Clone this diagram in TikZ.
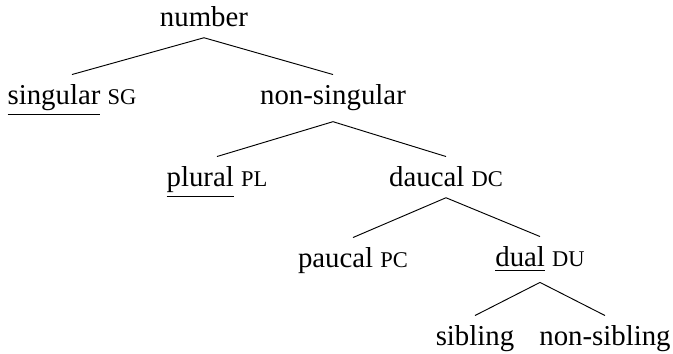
\documentclass[tikz,border=0pt]{standalone}
\usepackage{fontspec}
\setmainfont{Liberation Serif}

% glos kapital kecil
\newcommand{\gl}[1]{{\fontsize{9.6}{11}\selectfont #1}}

\begin{document}
\begin{tikzpicture}[x=0.015cm, y=-0.015cm, font=\fontsize{12.3}{14}\selectfont,
  every node/.style={anchor=base, inner xsep=0pt, inner ysep=0.15cm}]
\useasboundingbox (0,0) rectangle (673,354);

% akar
\node (num) at (204,27) {number};

% tingkat 1
\node (sg) at (72,105) {\underline{singular} \gl{SG}};
\node (nsg) at (333,105) {non-singular};

% tingkat 2
\node (pl) at (217,187) {\underline{plural} \gl{PL}};
\node (dc) at (446,187) {daucal \gl{DC}};

% tingkat 3
\node (pc) at (353,268) {paucal \gl{PC}};
\node (du) at (540,267) {\underline{dual} \gl{DU}};

% tingkat 4
\node (sib) at (475,346) {sibling};
\node (nsib) at (605,346) {non-sibling};

% cabang
\draw (num.south) -- (sg.north);
\draw (num.south) -- (nsg.north);
\draw (nsg.south) -- (pl.north);
\draw (nsg.south) -- (dc.north);
\draw (dc.south) -- (pc.north);
\draw (dc.south) -- (du.north);
\draw (du.south) -- (sib.north);
\draw (du.south) -- (nsib.north);

\end{tikzpicture}
\end{document}
